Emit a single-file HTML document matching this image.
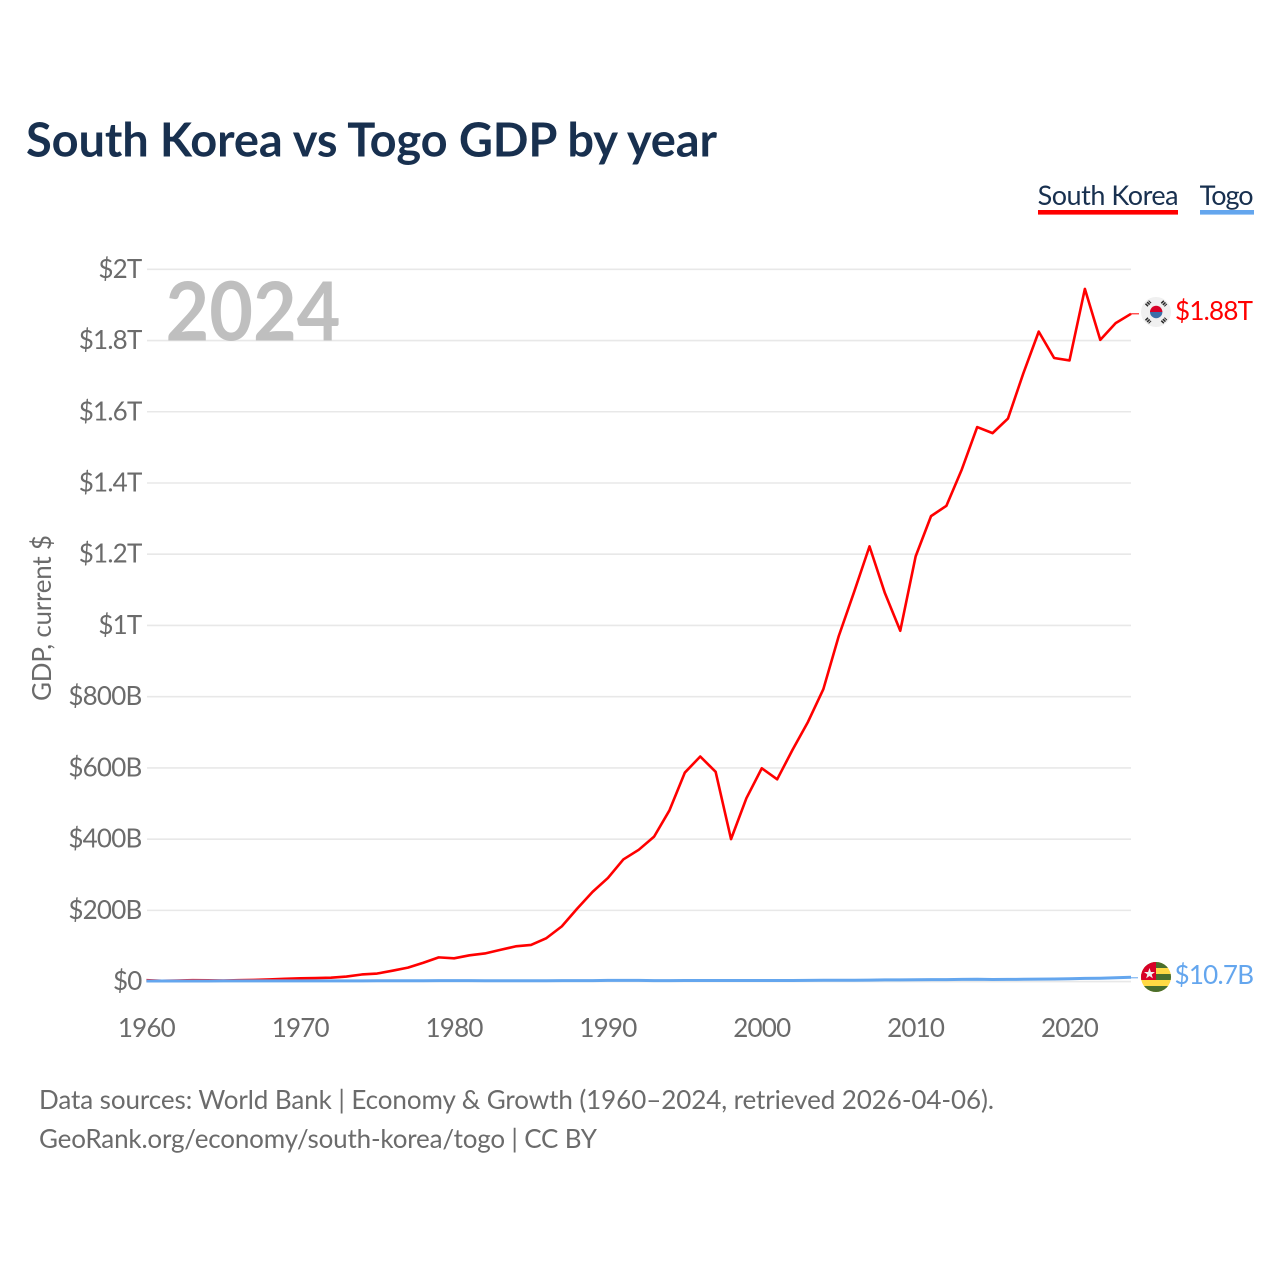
<!DOCTYPE html>
<html lang="en">
<head>
<meta charset="utf-8">
<title>South Korea vs Togo GDP by year</title>
<style>
  html, body { margin: 0; padding: 0; background: #fff; }
  svg { display: block; font-family: "Lato", "Carlito", "Liberation Sans", sans-serif; }
</style>
</head>
<body>
<svg id="chart" xmlns="http://www.w3.org/2000/svg" width="1280" height="1280" viewBox="0 0 1280 1280">
  <rect x="0" y="0" width="1280" height="1280" fill="#ffffff"/>
  <text x="26" y="156.6" font-size="47" font-weight="700" fill="#18304f" textLength="691" lengthAdjust="spacing">South Korea vs Togo GDP by year</text>

  <g>
    <text x="1037.6" y="205" font-size="27" fill="#18304f" textLength="141" lengthAdjust="spacing">South Korea</text>
    <rect x="1038" y="210" width="140" height="4.6" fill="#ff0000"/>
  </g>
  <g>
    <text x="1199.6" y="205" font-size="27" fill="#18304f" textLength="54" lengthAdjust="spacing">Togo</text>
    <rect x="1200" y="210" width="54" height="4.6" fill="#64a6ee"/>
  </g>

  <g id="grid"></g>
  <g id="y-labels"></g>
  <g id="x-labels"></g>

  <text transform="translate(51 618) rotate(-90)" text-anchor="middle" font-size="26" fill="#6b6b6b" textLength="166" lengthAdjust="spacing">GDP, current $</text>
  <text x="165.5" y="340.6" font-size="81" font-weight="700" fill="#bfbfbf" textLength="175" lengthAdjust="spacingAndGlyphs">2024</text>

  <g id="series"></g>

  <g id="end-labels"></g>

  <defs>
    <clipPath id="flag-clip-togo"><circle cx="1156" cy="977" r="15"/></clipPath>
  </defs>
  <g>
    <circle cx="1156" cy="312" r="15" fill="#f0f0f0"/>
    <path d="M1150 312 a6.2 6.2 0 0 1 12.4 0 z" fill="#d80027"/>
    <path d="M1150 312 a6.2 6.2 0 0 0 12.4 0 z" fill="#3b6ea8"/>
    <g stroke="#2b2b2b" stroke-width="3.6" stroke-dasharray="1.6 0.7" fill="none">
      <path d="M1146.2 305.5 l4 -4"/>
      <path d="M1162 301.5 l4 4"/>
      <path d="M1146.2 318.5 l4 4"/>
      <path d="M1162 322.5 l4 -4"/>
    </g>
  </g>
  <g clip-path="url(#flag-clip-togo)">
    <rect x="1141" y="962" width="30" height="30" fill="#ffda44"/>
    <rect x="1141" y="962" width="30" height="6" fill="#496e2d"/>
    <rect x="1141" y="974" width="30" height="6" fill="#496e2d"/>
    <rect x="1141" y="986" width="30" height="6" fill="#496e2d"/>
    <rect x="1141" y="962" width="15" height="18" fill="#d80027"/>
    <polygon points="1149.5,968 1150.9,972 1155,972 1151.7,974.5 1152.9,978.4 1149.5,976 1146.1,978.4 1147.3,974.5 1144,972 1148.1,972" fill="#f0f0f0"/>
  </g>

  <text x="39" y="1109" font-size="26" fill="#6b6b6b" textLength="955" lengthAdjust="spacing">Data sources: World Bank | Economy &amp; Growth (1960–2024, retrieved 2026-04-06).</text>
  <text x="39" y="1148" font-size="26" fill="#6b6b6b" textLength="558" lengthAdjust="spacing">GeoRank.org/economy/south-korea/togo | CC BY</text>
</svg>

<script>
const startYear = 1960;
const koreaGdp = [
  3.96, 2.42, 2.81, 3.99, 3.53, 3.12, 3.93, 4.86, 6.12, 7.68,
  9.41, 9.9, 10.9, 14.1, 20.0, 22.7, 30.6, 39.2, 53.0, 68.0,
  65.4, 73.8, 79.0, 89.0, 99.0, 103, 122, 155, 205, 252,
  291, 343, 370, 407, 481, 587, 632, 589, 400, 515,
  599, 568, 651, 729, 821, 970, 1094, 1222, 1091, 985,
  1194, 1307, 1336, 1438, 1557, 1540, 1581, 1708, 1825, 1751,
  1744, 1945, 1802, 1849, 1875
];
const togoGdp = [
  0.12, 0.13, 0.13, 0.14, 0.17, 0.19, 0.21, 0.22, 0.25, 0.27,
  0.25, 0.29, 0.32, 0.38, 0.44, 0.62, 0.62, 0.72, 0.88, 1.04,
  1.14, 0.96, 0.79, 0.68, 0.60, 0.62, 0.85, 1.0, 1.13, 1.13,
  1.63, 1.6, 1.65, 1.1, 0.96, 1.3, 1.44, 1.44, 1.5, 1.43,
  1.29, 1.33, 1.47, 1.67, 1.94, 2.1, 2.2, 2.5, 3.1, 3.2,
  3.4, 3.9, 4.0, 4.4, 4.8, 4.2, 4.4, 4.8, 5.3, 5.5,
  6.2, 7.5, 7.9, 9.2, 10.7
];
const yTickValues = [0, 200, 400, 600, 800, 1000, 1200, 1400, 1600, 1800, 2000];
const yTickLabels = ["$0", "$200B", "$400B", "$600B", "$800B", "$1T", "$1.2T", "$1.4T", "$1.6T", "$1.8T", "$2T"];
const xTickValues = [1960, 1970, 1980, 1990, 2000, 2010, 2020];
const xTickLabels = ["1960", "1970", "1980", "1990", "2000", "2010", "2020"];
const koreaEndLabel = "$1.88T";
const togoEndLabel = "$10.7B";

const SVG_NS = "http://www.w3.org/2000/svg";
function xScale(year) { return 146.4 + (year - 1960) * 15.385; }
function yScale(billions) { return 981.6 - billions * 0.35615; }
function make(tag, attrs, parent, text) {
  const el = document.createElementNS(SVG_NS, tag);
  for (const k in attrs) el.setAttribute(k, attrs[k]);
  if (text !== undefined) el.textContent = text;
  parent.appendChild(el);
  return el;
}
function linePoints(values) {
  return values.map((v, i) => xScale(startYear + i).toFixed(2) + "," + yScale(v).toFixed(2)).join(" ");
}

const grid = document.getElementById("grid");
const yLabels = document.getElementById("y-labels");
const xLabels = document.getElementById("x-labels");
const series = document.getElementById("series");
const endLabels = document.getElementById("end-labels");
const lastX = xScale(startYear + koreaGdp.length - 1);

yTickValues.forEach((v, i) => {
  const line = make("line", { x1: 147, x2: 1131, y1: yScale(v), y2: yScale(v), stroke: "#e8e8e8", "stroke-width": 1.6 }, grid);
  
  
  const label = make("text", { x: 141.5, y: yScale(v) + 8.5, "text-anchor": "end", "font-size": 26, "letter-spacing": -0.8, fill: "#6b6b6b" }, yLabels, yTickLabels[i]);
  
  
});

xTickValues.forEach((v, i) => {
  const label = make("text", { x: xScale(v), y: 1037, "text-anchor": "middle", "font-size": 26, "letter-spacing": -0.8, fill: "#6b6b6b" }, xLabels, xTickLabels[i]);
  
  
});

const koreaLine = make("polyline", { points: linePoints(koreaGdp), fill: "none", stroke: "#ff0000", "stroke-width": 2.6, "stroke-linejoin": "round" }, series);


const togoLine = make("polyline", { points: linePoints(togoGdp), fill: "none", stroke: "#64a6ee", "stroke-width": 3, "stroke-linejoin": "round", transform: "translate(0 -0.6)" }, series);



const koreaEndY = yScale(koreaGdp[koreaGdp.length - 1]);
const togoEndY = yScale(togoGdp[togoGdp.length - 1]);
const koreaLeader = make("line", { x1: lastX, x2: 1139, y1: koreaEndY, y2: koreaEndY, stroke: "#ff0000", "stroke-width": 1 }, endLabels);


const togoLeader = make("line", { x1: lastX, x2: 1138, y1: togoEndY, y2: togoEndY, stroke: "#64a6ee", "stroke-width": 1 }, endLabels);


const koreaValue = make("text", { x: 1175, y: 320, "font-size": 26, fill: "#ff0000", textLength: 78, lengthAdjust: "spacing" }, endLabels, koreaEndLabel);


const togoValue = make("text", { x: 1174.5, y: 984, "font-size": 26, fill: "#64a6ee", textLength: 79.5, lengthAdjust: "spacing" }, endLabels, togoEndLabel);


</script>
</body>
</html>
